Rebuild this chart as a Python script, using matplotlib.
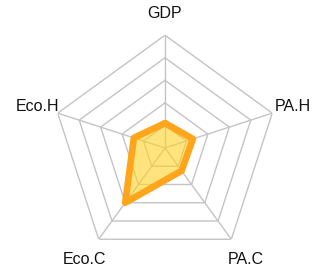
import numpy as np
import matplotlib
matplotlib.use("Agg")
import matplotlib.pyplot as plt

plt.rcParams["font.family"] = ["Liberation Sans", "DejaVu Sans"]

# radar data (5 rings, max 5)
indicators = ["GDP", "PA.H", "PA.C", "Eco.C", "Eco.H"]
values = [1.1, 1.3, 1.25, 3.0, 1.45]
max_value = 5
ring_levels = [1, 2, 3, 4, 5]

fig = plt.figure(figsize=(3.22, 2.76), dpi=100)
ax = fig.add_axes([0.1621, 0.0551, 0.7006, 0.8174], projection="polar")
ax.set_theta_offset(np.pi / 2)
ax.set_theta_direction(-1)
ax.set_ylim(0, max_value)
ax.grid(False)
ax.spines["polar"].set_visible(False)
ax.set_xticks([])
ax.set_yticks([])
ax.patch.set_alpha(0)

angles = np.linspace(0, 2 * np.pi, len(indicators), endpoint=False)
closed = np.append(angles, angles[0])

# pentagon grid
grid_color = "#c4c4c4"
for lvl in ring_levels:
    ax.plot(closed, [lvl] * len(closed), color=grid_color, lw=1.0, zorder=1)
for a in angles:
    ax.plot([a, a], [0, max_value], color=grid_color, lw=1.0, zorder=1)

# data polygon
vals = np.append(values, values[0])
ax.fill(closed, vals, color="#ffd21f", alpha=0.58, lw=0, zorder=2)
ax.plot(closed, vals, color="#ffa51c", lw=4.8, solid_joinstyle="round",
        solid_capstyle="round", zorder=3)

# labels
label_r = [5.95, 5.95, 6.1, 6.1, 5.95]
for a, name, r in zip(angles, indicators, label_r):
    ax.text(a, r, name, ha="center", va="center", fontsize=11.5, color="#111111")

fig.savefig("out.png", dpi=100)
